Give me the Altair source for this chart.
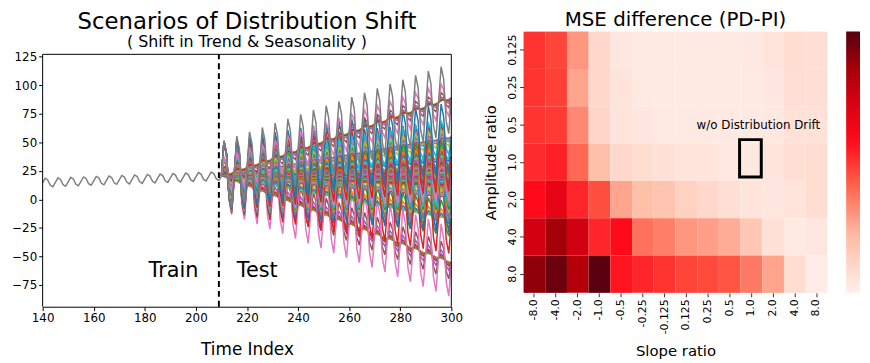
import altair as alt
import pandas as pd

FONT = "DejaVu Sans"

# ---------------- Left panel: scenarios of distribution shift ----------------
TIME_TICKS = [140, 160, 180, 200, 220, 240, 260, 280, 300]
Y_TICKS = [-75, -50, -25, 0, 25, 50, 75, 100, 125]
X_MIN, X_MAX = 140, 300
Y_MIN, Y_MAX = -94, 127      # framed data range
Y_TOP_ROOM = 146.9           # extra room above the frame for the subtitle

# seasonal offsets by (t mod 5) (period 5)
SEASON_CYCLE = [0.0, 3.8, 2.35, -2.35, -3.8]
TRAIN_T0, TRAIN_T1 = 140, 210
TRAIN_LEVEL0 = 14.5          # level of the train line at t=140
TRAIN_SLOPE = 0.085          # rise per step of the train line
SPLIT_T = 209                # dashed train/test boundary
TEST_T0, TEST_T1 = 210, 300
TEST_LEVEL0 = 20.4           # level where all test scenarios start
TEST_SLOPE_UNIT_POS = 0.095  # per unit slope ratio (upward envelope)
TEST_SLOPE_UNIT_NEG = 0.105  # per unit slope ratio (downward envelope)

SLOPE_VALUES = [-8.0, -4.0, -2.0, -1.0, -0.5, -0.25, -0.125, 0.125, 0.25, 0.5, 1.0, 2.0, 4.0, 8.0]
AMP_VALUES = [0.125, 0.25, 0.5, 1.0, 2.0, 4.0, 8.0]

TAB10 = ["#1f77b4", "#ff7f0e", "#2ca02c", "#d62728", "#9467bd",
         "#8c564b", "#e377c2", "#7f7f7f", "#bcbd22", "#17becf"]

TRAIN_LABEL = ("Train", 201, -63)
TEST_LABEL = ("Test", 216, -63)

# ---------------- Right panel: MSE difference heatmap ----------------
SLOPE_RATIOS = ["-8.0", "-4.0", "-2.0", "-1.0", "-0.5", "-0.25", "-0.125",
                "0.125", "0.25", "0.5", "1.0", "2.0", "4.0", "8.0"]
AMP_RATIOS = ["0.125", "0.25", "0.5", "1.0", "2.0", "4.0", "8.0"]

MSE_0125 = [2.32, 2.18, 1.39, 0.46, 0.19, 0.14, 0.12, 0.12, 0.12, 0.14, 0.16, 0.23, 0.37, 0.32]
MSE_025 = [2.32, 2.22, 1.25, 0.46, 0.23, 0.14, 0.12, 0.12, 0.12, 0.12, 0.14, 0.19, 0.32, 0.32]
MSE_05 = [2.32, 2.27, 1.53, 0.51, 0.23, 0.19, 0.14, 0.12, 0.12, 0.12, 0.12, 0.16, 0.28, 0.28]
MSE_1 = [2.41, 2.50, 1.85, 0.93, 0.46, 0.37, 0.28, 0.23, 0.21, 0.16, 0.14, 0.21, 0.32, 0.37]
MSE_2 = [2.69, 3.10, 2.45, 2.08, 1.25, 0.93, 0.83, 0.60, 0.46, 0.32, 0.23, 0.19, 0.23, 0.37]
MSE_4 = [3.43, 3.98, 3.43, 2.45, 2.69, 1.76, 1.62, 1.39, 1.30, 1.16, 0.79, 0.28, 0.14, 0.19]
MSE_8 = [4.17, 4.44, 3.80, 4.58, 2.59, 2.45, 2.32, 2.18, 2.13, 2.04, 1.67, 1.25, 0.37, 0.07]
MSE_ROWS = [MSE_0125, MSE_025, MSE_05, MSE_1, MSE_2, MSE_4, MSE_8]

COLOR_STOP_VALUES = [0.0, 1.02, 1.99, 2.69, 3.47, 4.03, 4.63]
COLOR_STOPS = ["#fff0eb", "#ffbba4", "#ff5a45", "#ff0a1a", "#d00010", "#a00008", "#550010"]

ANNOT_TEXT = "w/o Distribution Drift"
ANNOT_CELL = ("1.0", "0.5")
BOX_CELL = ("1.0", "1.0")

# ---------------- build tables ----------------
train_rows = []
for t in range(TRAIN_T0, TRAIN_T1 + 1):
    train_rows.append({"t": t, "y": TRAIN_LEVEL0 + TRAIN_SLOPE * (t - TRAIN_T0) + SEASON_CYCLE[t % 5]})
train_df = pd.DataFrame(train_rows)

test_rows = []
for si, sr in enumerate(SLOPE_VALUES):
    unit = TEST_SLOPE_UNIT_POS if sr > 0 else TEST_SLOPE_UNIT_NEG
    for ai, ar in enumerate(AMP_VALUES):
        idx = si * len(AMP_VALUES) + ai
        for t in range(TEST_T0, TEST_T1 + 1):
            test_rows.append({
                "series": idx,
                "c": idx % 10,
                "t": t,
                "y": TEST_LEVEL0 + sr * unit * (t - TEST_T0) + ar * SEASON_CYCLE[t % 5],
            })
test_df = pd.DataFrame(test_rows)

split_df = pd.DataFrame({"t": [SPLIT_T], "y": [Y_MIN], "y1": [Y_MAX]})
frame_h_df = pd.DataFrame([{"t": X_MIN, "x1": X_MAX, "y": Y_MAX}])
frame_v_df = pd.DataFrame([
    {"t": X_MAX, "y": Y_MIN, "y1": Y_MAX},
    {"t": X_MIN, "y": Y_MIN, "y1": Y_MAX},
])
label_df = pd.DataFrame([
    {"txt": TRAIN_LABEL[0], "t": TRAIN_LABEL[1], "y": TRAIN_LABEL[2], "al": "right"},
    {"txt": TEST_LABEL[0], "t": TEST_LABEL[1], "y": TEST_LABEL[2], "al": "left"},
])

xs = alt.Scale(domain=[X_MIN, X_MAX], nice=False, zero=False)
ys = alt.Scale(domain=[Y_MIN, Y_TOP_ROOM], nice=False, zero=False)
x_axis = alt.Axis(values=TIME_TICKS, title="Time Index", titleFontSize=17, labelFontSize=12,
                  tickSize=4, grid=False, titlePadding=18, labelFlush=False, labelOverlap=False)
y_axis = alt.Axis(values=Y_TICKS, title=None, labelFontSize=12, tickSize=4, grid=False,
                  format="d", domain=False, labelOverlap=False, labelBound=False)
X_ENC = alt.X("t:Q", scale=xs, axis=x_axis)
Y_ENC = alt.Y("y:Q", scale=ys, axis=y_axis)

test_lines = alt.Chart(test_df).mark_line(strokeWidth=1.5, clip=True).encode(
    x=X_ENC, y=Y_ENC,
    detail="series:N",
    color=alt.Color("c:N", scale=alt.Scale(domain=list(range(10)), range=TAB10), legend=None),
    order="t:Q",
)
train_line = alt.Chart(train_df).mark_line(strokeWidth=1.5, color="#7f7f7f", clip=True).encode(
    x=X_ENC, y=Y_ENC
)
frame_h = alt.Chart(frame_h_df).mark_rule(color="black", strokeWidth=1).encode(
    x=X_ENC, x2="x1:Q", y=Y_ENC
)
frame_v = alt.Chart(frame_v_df).mark_rule(color="black", strokeWidth=1).encode(
    x=X_ENC, y=Y_ENC, y2="y1:Q"
)
split_rule = alt.Chart(split_df).mark_rule(color="black", strokeWidth=2, strokeDash=[6, 4]).encode(
    x=X_ENC, y=Y_ENC, y2="y1:Q"
)
train_text = alt.Chart(label_df[label_df["al"] == "right"]).mark_text(
    fontSize=21, align="right", baseline="middle", font=FONT, color="black").encode(
    x=X_ENC, y=Y_ENC, text="txt:N")
test_text = alt.Chart(label_df[label_df["al"] == "left"]).mark_text(
    fontSize=21, align="left", baseline="middle", font=FONT, color="black").encode(
    x=X_ENC, y=Y_ENC, text="txt:N")

left = alt.layer(test_lines, train_line, frame_h, frame_v, split_rule, train_text, test_text).properties(
    width=413, height=278,
    title=alt.TitleParams("Scenarios of Distribution Shift", subtitle="( Shift in Trend & Seasonality )",
                          fontSize=23, subtitleFontSize=16, font=FONT, subtitleFont=FONT,
                          fontWeight="normal", color="black", subtitleColor="black",
                          anchor="middle", subtitlePadding=1, offset=-19),
)

heat_rows = []
for ri, amp in enumerate(AMP_RATIOS):
    for ci, sl in enumerate(SLOPE_RATIOS):
        heat_rows.append({"slope": sl, "amp": amp, "mse": MSE_ROWS[ri][ci]})
heat_df = pd.DataFrame(heat_rows)

HX = alt.X("slope:O", sort=SLOPE_RATIOS,
           axis=alt.Axis(title="Slope ratio", titleFontSize=15, labelFontSize=11, labelAngle=-90,
                         domain=False, tickSize=4, tickColor="#333333", titlePadding=10))
HY = alt.Y("amp:O", sort=AMP_RATIOS,
           axis=alt.Axis(title="Amplitude ratio", titleFontSize=15, labelFontSize=11, labelAngle=-90,
                         labelAlign="center", labelBaseline="bottom",
                         domain=False, tickSize=4, tickColor="#333333", titlePadding=8))

heat = alt.Chart(heat_df).mark_rect().encode(
    x=HX, y=HY,
    color=alt.Color("mse:Q",
                    scale=alt.Scale(domain=COLOR_STOP_VALUES, range=COLOR_STOPS, interpolate="rgb"),
                    legend=alt.Legend(title=None, orient="right", offset=19, gradientLength=264,
                                      gradientThickness=14, gradientStrokeWidth=0,
                                      labelExpr="''", padding=0, direction="vertical")),
)
annot = alt.Chart(pd.DataFrame([{"slope": ANNOT_CELL[0], "amp": ANNOT_CELL[1], "txt": ANNOT_TEXT}])).mark_text(
    fontSize=12, font=FONT, color="black", dx=7, align="center", baseline="middle").encode(
    x=HX, y=HY, text="txt:N")
box = alt.Chart(pd.DataFrame([{"slope": BOX_CELL[0], "amp": BOX_CELL[1]}])).mark_rect(
    filled=False, stroke="black", strokeWidth=3, xOffset=-1, x2Offset=3, yOffset=-4, y2Offset=-2).encode(
    x=HX, y=HY)

right = alt.layer(heat, annot, box).properties(
    width=307, height=264,
    title=alt.TitleParams("MSE difference (PD-PI)", fontSize=20, font=FONT, fontWeight="normal",
                          color="black", anchor="middle", offset=2),
)

chart = alt.hconcat(left, right, spacing=21).properties(
    padding={"left": 3, "top": 0, "right": 0, "bottom": 0}
).configure_view(stroke=None).configure_axis(
    labelFont=FONT, titleFont=FONT, labelColor="black", titleColor="black",
    titleFontWeight="normal", domainColor="black", tickColor="black"
).configure_axisY(labelOverlap=False)

chart.save("out.html", embed_options={"renderer": "svg", "actions": False})
